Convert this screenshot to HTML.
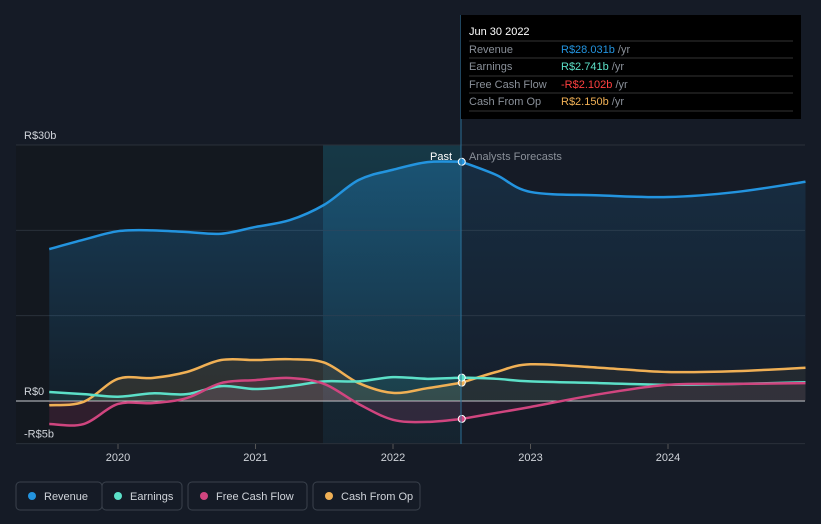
<!DOCTYPE html>
<html><head><meta charset="utf-8"><style>
body{margin:0;background:#151b26;font-family:"Liberation Sans",sans-serif;}
svg{display:block}
</style></head><body>
<svg width="821" height="524" xmlns="http://www.w3.org/2000/svg" id="chart">
<defs>
<linearGradient id="revg" x1="0" y1="0" x2="0" y2="1"><stop offset="0" stop-color="#2394df" stop-opacity="0.3"/><stop offset="1" stop-color="#2394df" stop-opacity="0.06"/></linearGradient>
<linearGradient id="hl" x1="0" y1="0" x2="0" y2="1"><stop offset="0" stop-color="#1aa0b8" stop-opacity="0.22"/><stop offset="1" stop-color="#1aa0b8" stop-opacity="0.06"/></linearGradient>
</defs>
<rect x="0" y="0" width="821" height="524" fill="#151b26"/>
<rect x="16" y="145" width="307" height="299" fill="#13181f"/>
<rect x="323" y="145" width="138" height="299" fill="url(#hl)"/>
<g id="grid"></g>
<g id="areas"></g>
<g id="lines"></g>
<g id="labels"></g>
<line x1="461" y1="15" x2="461" y2="444" stroke="#2a6f96" stroke-width="1"/>
<text x="452" y="160" fill="#ffffff" font-size="11" text-anchor="end">Past</text>
<text x="469" y="160" fill="#8a9099" font-size="11">Analysts Forecasts</text>
<g>
<rect x="461" y="15" width="340" height="104" fill="#000"/>
<text x="469" y="35" fill="#fff" font-size="11">Jun 30 2022</text>
<line x1="469" y1="41" x2="793" y2="41" stroke="#333"/>
<text x="469" y="53" fill="#8a9099" font-size="11">Revenue</text><text x="561" y="53" font-size="11" fill="#2394df">R$28.031b <tspan fill="#8a9099">/yr</tspan></text>
<line x1="469" y1="58" x2="793" y2="58" stroke="#333"/>
<text x="469" y="70" fill="#8a9099" font-size="11">Earnings</text><text x="561" y="70" font-size="11" fill="#5ce0c8">R$2.741b <tspan fill="#8a9099">/yr</tspan></text>
<line x1="469" y1="76" x2="793" y2="76" stroke="#333"/>
<text x="469" y="88" fill="#8a9099" font-size="11">Free Cash Flow</text><text x="561" y="88" font-size="11" fill="#ff4040">-R$2.102b <tspan fill="#8a9099">/yr</tspan></text>
<line x1="469" y1="93" x2="793" y2="93" stroke="#333"/>
<text x="469" y="105" fill="#8a9099" font-size="11">Cash From Op</text><text x="561" y="105" font-size="11" fill="#f0b055">R$2.150b <tspan fill="#8a9099">/yr</tspan></text>
<line x1="469" y1="111" x2="793" y2="111" stroke="#333"/>
</g>
<g id="legend"></g>
</svg>
<script>
const years=[2019.5,2019.75,2020,2020.25,2020.5,2020.75,2021,2021.25,2021.5,2021.75,2022,2022.25,2022.5];
const fyears=[2022.5,2022.75,2023,2023.5,2024,2024.5,2025];
const revenue=[17.8,18.9,19.9,20.0,19.8,19.6,20.4,21.2,23.0,25.9,27.1,28.0,28.031];
const revenueF=[28.031,26.5,24.5,24.1,23.9,24.5,25.7];
const earnings=[1.05,0.8,0.5,0.9,0.8,1.75,1.4,1.75,2.3,2.3,2.8,2.6,2.741];
const earningsF=[2.741,2.6,2.3,2.1,1.9,2.0,2.2];
const fcf=[-2.7,-2.7,-0.35,-0.25,0.35,2.1,2.45,2.7,2.0,-0.35,-2.2,-2.45,-2.102];
const fcfF=[-2.102,-1.4,-0.7,0.8,1.9,2.0,2.1];
const cfo=[-0.5,-0.1,2.6,2.7,3.4,4.8,4.8,4.9,4.5,2.1,0.95,1.5,2.15];
const cfoF=[2.15,3.4,4.3,3.9,3.4,3.5,3.9];
const yTicks=[30,20,10,0,-5];
const yLabels=["R$30b","","","R$0","-R$5b"];
const xTicks=[2020,2021,2022,2023,2024];
const NS="http://www.w3.org/2000/svg";
const X=t=>118+(t-2020)*137.5;
const Y=v=>401-v*8.533;
function el(tag,attrs,parent){const e=document.createElementNS(NS,tag);for(const k in attrs)e.setAttribute(k,attrs[k]);parent.appendChild(e);return e;}
function path(xs,vs){const p=xs.map((x,i)=>[X(x),Y(vs[i])]);let d="M"+p[0][0]+","+p[0][1];
for(let i=0;i<p.length-1;i++){const p0=p[i-1]||p[i],p1=p[i],p2=p[i+1],p3=p[i+2]||p2;
d+=" C"+(p1[0]+(p2[0]-p0[0])/6)+","+(p1[1]+(p2[1]-p0[1])/6)+" "+(p2[0]-(p3[0]-p1[0])/6)+","+(p2[1]-(p3[1]-p1[1])/6)+" "+p2[0]+","+p2[1];}return d;}
const grid=document.getElementById('grid'),areas=document.getElementById('areas'),lines=document.getElementById('lines'),labels=document.getElementById('labels');
yTicks.forEach((v,i)=>{const g=el('line',{x1:16,x2:805,y1:Y(v),y2:Y(v),stroke:v===0?'#c8ccd2':'#2a303a','stroke-width':1},grid);


if(yLabels[i]){const t=el('text',{x:24,y:Y(v)-6,fill:'#d0d4da','font-size':11},labels);t.textContent=yLabels[i];

}});
xTicks.forEach(x=>{el('line',{x1:X(x),x2:X(x),y1:444,y2:449,stroke:'#555'},grid);
const t=el('text',{x:X(x),y:461,fill:'#d0d4da','font-size':11,'text-anchor':'middle'},labels);t.textContent=x;

});
const series=[
 {n:'revenue',c:'#2394df',p:revenue,f:revenueF,fill:'url(#revg)'},
 {n:'cash-from-op',c:'#f0b055',p:cfo,f:cfoF,fill:'rgba(240,176,85,0.12)'},
 {n:'earnings',c:'#5ce0c8',p:earnings,f:earningsF,fill:'rgba(92,224,200,0.1)'},
 {n:'free-cash-flow',c:'#d0457f',p:fcf,f:fcfF,fill:'rgba(208,69,127,0.15)'}];
series.forEach(s=>{
 const d=path(years,s.p),df=path(fyears,s.f);
 const a=el('path',{d:d+" L"+X(2022.5)+","+Y(0)+" L"+X(2019.5)+","+Y(0)+"Z",fill:s.fill},areas);
 
 
 const af=el('path',{d:df+" L"+X(2025)+","+Y(0)+" L"+X(2022.5)+","+Y(0)+"Z",fill:s.fill,opacity:0.5},areas);
 
 
 const l=el('path',{d:d+" "+df.replace('M',' L'),fill:'none',stroke:s.c,'stroke-width':2.5},lines);
 
 
 const c=el('circle',{cx:X(2022.5),cy:Y(s.p[s.p.length-1]),r:3.5,fill:s.c,stroke:'#fff','stroke-width':1},lines);
 
 
});
const leg=document.getElementById('legend');
const items=[["Revenue","#2394df",16,86],["Earnings","#5ce0c8",102,80],["Free Cash Flow","#d0457f",188,119],["Cash From Op","#f0b055",313,107]];
items.forEach(it=>{const g=el('g',{},leg);


el('rect',{x:it[2],y:482,width:it[3],height:28,rx:4,fill:'none',stroke:'#3a414c'},g);
el('circle',{cx:it[2]+16,cy:496,r:4,fill:it[1]},g);
const t=el('text',{x:it[2]+28,y:500,fill:'#d0d4da','font-size':11},g);t.textContent=it[0];});
</script>
</body></html>
